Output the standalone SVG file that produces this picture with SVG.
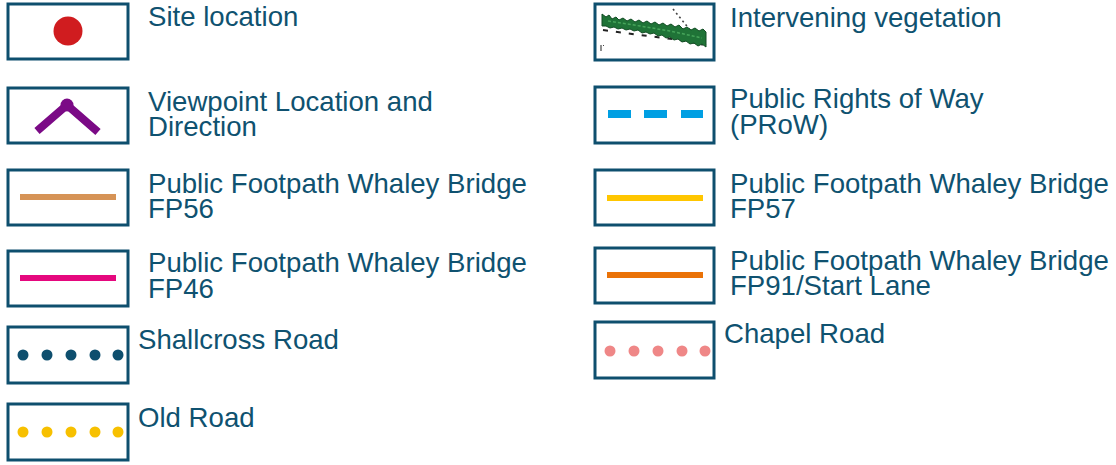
<svg xmlns="http://www.w3.org/2000/svg" width="1116" height="465" viewBox="0 0 1116 465">
  <style>
    .box { fill: #ffffff; stroke: #0e4f6e; stroke-width: 3; }
    .lbl { font-family: "Liberation Sans", Arial, sans-serif; font-size: 27.6px; fill: #0f5270; }
    .sym { stroke-width: 6; fill: none; }
  </style>
  <rect width="1116" height="465" fill="#ffffff"/>

  <!-- Left column -->
  <g id="site-location">
    <rect class="box" x="8" y="4" width="120" height="55"/>
    <circle cx="68" cy="31" r="14.5" fill="#d01c1f"/>
    <text class="lbl" x="148" y="26">Site location</text>
  </g>

  <g id="viewpoint">
    <rect class="box" x="8" y="88" width="120" height="55"/>
    <polyline points="37,131 67,105 98,132" fill="none" stroke="#7b0a86" stroke-width="8"/>
    <circle cx="67" cy="105" r="6.5" fill="#7b0a86"/>
    <text class="lbl" x="148" y="111">Viewpoint Location and</text>
    <text class="lbl" x="148" y="136">Direction</text>
  </g>

  <g id="fp56">
    <rect class="box" x="8" y="170" width="120" height="55"/>
    <line class="sym" x1="20" y1="197" x2="116" y2="197" stroke="#d69356"/>
    <text class="lbl" x="148" y="193">Public Footpath Whaley Bridge</text>
    <text class="lbl" x="148" y="218">FP56</text>
  </g>

  <g id="fp46">
    <rect class="box" x="8" y="251" width="120" height="55"/>
    <line class="sym" x1="20" y1="278" x2="116" y2="278" stroke="#e5087e"/>
    <text class="lbl" x="148" y="272">Public Footpath Whaley Bridge</text>
    <text class="lbl" x="148" y="298">FP46</text>
  </g>

  <g id="shallcross-road">
    <rect class="box" x="8" y="327" width="120" height="56"/>
    <g fill="#0e4f6e">
      <circle cx="23" cy="355" r="5.5"/>
      <circle cx="47" cy="355" r="5.5"/>
      <circle cx="71" cy="355" r="5.5"/>
      <circle cx="95" cy="355" r="5.5"/>
      <circle cx="118" cy="355" r="5.5"/>
    </g>
    <text class="lbl" x="138" y="349">Shallcross Road</text>
  </g>

  <g id="old-road">
    <rect class="box" x="8" y="404" width="120" height="56"/>
    <g fill="#f7c000">
      <circle cx="23" cy="432" r="5.5"/>
      <circle cx="47" cy="432" r="5.5"/>
      <circle cx="71" cy="432" r="5.5"/>
      <circle cx="95" cy="432" r="5.5"/>
      <circle cx="118" cy="432" r="5.5"/>
    </g>
    <text class="lbl" x="138" y="427">Old Road</text>
  </g>

  <!-- Right column -->
  <g id="vegetation">
    <rect class="box" x="595" y="4" width="119" height="56"/>
    <!-- dashed ground line -->
    <polyline points="603,30 640,35 680,40 706,45" fill="none" stroke="#222222" stroke-width="2" stroke-dasharray="5,8"/>
    <!-- dotted sight line -->
    <line x1="673" y1="9" x2="703" y2="46" stroke="#444444" stroke-width="1.6" stroke-dasharray="2,3"/>
    <!-- tree canopy band -->
    <path d="M602,14 L606,17 L609,15 L612,19 L616,17 L619,20 L623,18 L627,21 L631,19 L635,22 L639,20 L643,23 L647,21 L651,24 L655,22 L659,25 L663,23 L667,26 L671,24 L675,27 L679,25 L683,29 L687,27 L691,30 L695,28 L699,31 L703,29 L706,32 L706,47 L702,44 L698,46 L694,43 L690,44 L686,41 L682,42 L678,39 L674,40 L670,37 L666,38 L662,35 L658,36 L654,33 L650,34 L646,32 L642,33 L638,30 L634,31 L630,29 L626,30 L622,28 L618,29 L614,27 L610,28 L606,26 L602,26 Z" fill="#1f7337" stroke="#124d24" stroke-width="1"/>
    <path d="M608,21 L640,26 L670,31 L702,38" fill="none" stroke="#46a45a" stroke-width="1.5" stroke-dasharray="3,2"/>
    <line x1="601" y1="45" x2="601" y2="51" stroke="#444444" stroke-width="1.2"/>
    <line x1="603" y1="45" x2="604" y2="46" stroke="#444444" stroke-width="1"/>
    <text class="lbl" x="730" y="27">Intervening vegetation</text>
  </g>

  <g id="prow">
    <rect class="box" x="595" y="87" width="119" height="56"/>
    <g stroke="#009fe3" stroke-width="8">
      <line x1="608" y1="114" x2="631" y2="114"/>
      <line x1="644" y1="114" x2="667" y2="114"/>
      <line x1="681" y1="114" x2="703" y2="114"/>
    </g>
    <text class="lbl" x="730" y="108">Public Rights of Way</text>
    <text class="lbl" x="730" y="134">(PRoW)</text>
  </g>

  <g id="fp57">
    <rect class="box" x="595" y="170" width="119" height="55"/>
    <line class="sym" x1="607" y1="198" x2="703" y2="198" stroke="#ffc600"/>
    <text class="lbl" x="730" y="193">Public Footpath Whaley Bridge</text>
    <text class="lbl" x="730" y="218">FP57</text>
  </g>

  <g id="fp91">
    <rect class="box" x="595" y="248" width="119" height="55"/>
    <line class="sym" x1="607" y1="275" x2="703" y2="275" stroke="#ea7207"/>
    <text class="lbl" x="730" y="270">Public Footpath Whaley Bridge</text>
    <text class="lbl" x="730" y="295">FP91/Start Lane</text>
  </g>

  <g id="chapel-road">
    <rect class="box" x="595" y="322" width="119" height="56"/>
    <g fill="#ef8787">
      <circle cx="610" cy="351" r="5.5"/>
      <circle cx="634" cy="351" r="5.5"/>
      <circle cx="658" cy="351" r="5.5"/>
      <circle cx="682" cy="351" r="5.5"/>
      <circle cx="705" cy="351" r="5.5"/>
    </g>
    <text class="lbl" x="724" y="343">Chapel Road</text>
  </g>

  <g id="connectors"/>
</svg>
